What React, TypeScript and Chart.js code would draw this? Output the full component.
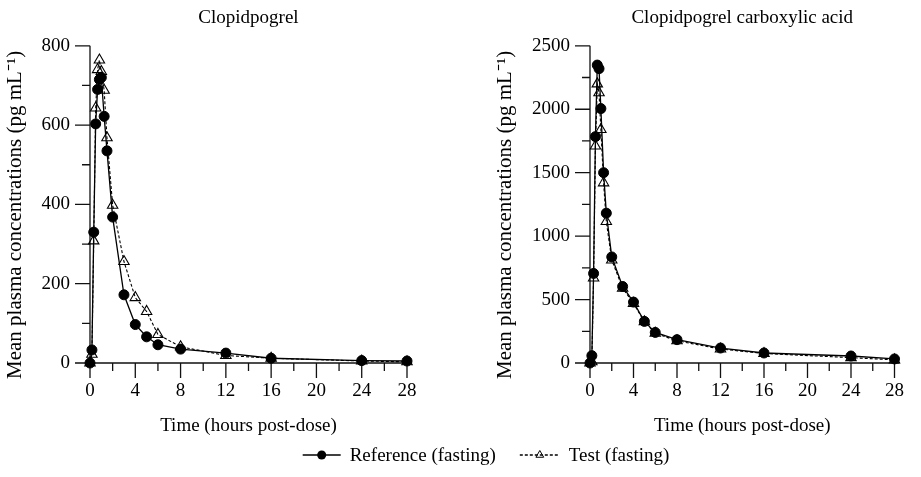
import React, { useEffect, useRef } from "react";
import { Chart, registerables } from "chart.js";

Chart.register(...registerables);

// ---- data ----
const timesH = [0, 0.17, 0.33, 0.5, 0.67, 0.83, 1, 1.25, 1.5, 2, 3, 4, 5, 6, 8, 12, 16, 24, 28];

const clopReference = [0, 33, 330, 603, 690, 715, 720, 622, 535, 368, 172, 97, 66, 46, 35, 25, 12, 6, 5];
const clopTest = [0, 22, 308, 643, 740, 764, 735, 688, 568, 398, 256, 165, 130, 72, 41, 19, 12, 5, 3];

const acidReference = [0, 58, 706, 1784, 2348, 2320, 2005, 1500, 1181, 836, 603, 480, 328, 241, 184, 118, 79, 55, 32];
const acidTest = [0, 10, 670, 1710, 2200, 2130, 1840, 1420, 1115, 812, 590, 470, 325, 235, 175, 110, 75, 42, 25];

const panelTitles = ["Clopidpogrel", "Clopidpogrel carboxylic acid"];
const seriesNames = ["Reference (fasting)", "Test (fasting)"];
const xTitle = "Time (hours post-dose)";
const yTitle = "Mean plasma concentrations (pg mL\u207B\u00B9)";

const xMax = 28;
const xMajorStep = 4;
const xMinorStep = 2;
const clopYMax = 800;
const clopYStep = 200;
const acidYMax = 2500;
const acidYStep = 500;

const FONT = "'Liberation Serif', 'Times New Roman', serif";
const FS = 19;

const axesPlugin = {
  id: "axesMarks",
  beforeDatasetsDraw(chart: any, _args: any, o: any) {
    const { ctx } = chart;
    const xs = chart.scales.x;
    const ys = chart.scales.y;
    const x0 = xs.getPixelForValue(xs.min);
    const xEnd = xs.getPixelForValue(xs.max);
    const y0 = ys.getPixelForValue(ys.min);
    const yTop = ys.getPixelForValue(ys.max);
    ctx.save();
    ctx.strokeStyle = "#111";
    ctx.lineWidth = 1.3;
    ctx.beginPath();
    ctx.moveTo(x0, yTop);
    ctx.lineTo(x0, y0);
    ctx.moveTo(x0, y0);
    ctx.lineTo(xEnd + 5, y0);
    for (let v = ys.min; v <= ys.max + 1e-9; v += o.yMinor) {
      const p = ys.getPixelForValue(v);
      const r = v / o.yMajor;
      const len = Math.abs(r - Math.round(r)) < 1e-6 ? 15 : 8;
      ctx.moveTo(x0 - len, p);
      ctx.lineTo(x0, p);
    }
    for (let v = xs.min; v <= xs.max + 1e-9; v += o.xMinor) {
      const p = xs.getPixelForValue(v);
      const r = v / o.xMajor;
      const len = Math.abs(r - Math.round(r)) < 1e-6 ? 15 : 8;
      ctx.moveTo(p, y0);
      ctx.lineTo(p, y0 + len);
    }
    ctx.stroke();
    ctx.restore();
  },
};

function drawMarker(ctx: CanvasRenderingContext2D, style: string, x: number, y: number, r: number) {
  ctx.beginPath();
  if (style === "circle") {
    ctx.arc(x, y, r, 0, Math.PI * 2);
    ctx.fillStyle = "#000";
    ctx.fill();
  } else {
    let rad = 0;
    ctx.moveTo(x + Math.sin(rad) * r, y - Math.cos(rad) * r);
    rad += (2 * Math.PI) / 3;
    ctx.lineTo(x + Math.sin(rad) * r, y - Math.cos(rad) * r);
    rad += (2 * Math.PI) / 3;
    ctx.lineTo(x + Math.sin(rad) * r, y - Math.cos(rad) * r);
    ctx.closePath();
    ctx.strokeStyle = "#000";
    ctx.lineWidth = 1;
    ctx.stroke();
  }
}

const pairLegendPlugin = {
  id: "pairLegend",
  afterDraw(chart: any, _args: any, o: any) {
    if (!o || !o.show) return;
    const { ctx } = chart;
    const ds = chart.data.datasets;
    ctx.save();
    ctx.font = `${FS}px ${FONT}`;
    ctx.textBaseline = "middle";
    ctx.textAlign = "left";
    const iconW = [38, 40];
    const gapIcon = 9;
    const gapItem = 24;
    const widths = ds.map((d: any) => ctx.measureText(d.label).width);
    const total = iconW[0] + gapIcon + widths[0] + gapItem + iconW[1] + gapIcon + widths[1];
    let x = o.centerX - total / 2;
    const y = o.y;
    ds.forEach((d: any, i: number) => {
      ctx.beginPath();
      ctx.strokeStyle = "#000";
      ctx.lineWidth = 1.3;
      ctx.setLineDash(d.borderDash || []);
      ctx.moveTo(x, y);
      ctx.lineTo(x + iconW[i], y);
      ctx.stroke();
      ctx.setLineDash([]);
      drawMarker(ctx, d.pointStyle, x + iconW[i] / 2, y, 4.5);
      x += iconW[i] + gapIcon;
      ctx.fillStyle = "#000";
      ctx.fillText(d.label, x, y + 1);
      x += widths[i] + gapItem;
    });
    ctx.restore();
  },
};

function makeConfig(
  title: string,
  refVals: number[],
  testVals: number[],
  yMax: number,
  yStep: number,
  padL: number,
  padR: number,
  yWidth: number,
  showLegend: boolean
): any {
  return {
    type: "line",
    data: {
      datasets: [
        {
          label: seriesNames[0],
          data: timesH.map((t, i) => ({ x: t, y: refVals[i] })),
          borderColor: "#000",
          borderWidth: 1.3,
          pointStyle: "circle",
          pointRadius: 5,
          pointBackgroundColor: "#000",
          pointBorderColor: "#000",
          pointBorderWidth: 1,
          tension: 0,
          clip: false,
          order: 0,
        },
        {
          label: seriesNames[1],
          data: timesH.map((t, i) => ({ x: t, y: testVals[i] })),
          borderColor: "#000",
          borderWidth: 1.1,
          borderDash: [3, 2],
          pointStyle: "triangle",
          pointRadius: 6,
          pointBackgroundColor: "rgba(255,255,255,0)",
          pointBorderColor: "#000",
          pointBorderWidth: 1.1,
          tension: 0,
          clip: false,
          order: 1,
        },
      ],
    },
    options: {
      responsive: false,
      animation: false,
      events: [],
      layout: { padding: { left: padL, right: padR, top: 0, bottom: 0 } },
      plugins: {
        legend: { display: false },
        tooltip: { enabled: false },
        title: {
          display: true,
          text: title,
          fullSize: false,
          color: "#000",
          font: { family: FONT, size: FS, weight: "normal" },
          padding: { top: 7, bottom: 16 },
        },
        axesMarks: { yMinor: yStep / 2, yMajor: yStep, xMinor: xMinorStep, xMajor: xMajorStep },
        pairLegend: { show: showLegend, centerX: 486, y: 455 },
      },
      scales: {
        x: {
          type: "linear",
          min: 0,
          max: xMax,
          grid: { display: false, drawTicks: false },
          border: { display: false },
          ticks: {
            stepSize: xMajorStep,
            padding: 17,
            color: "#000",
            font: { family: FONT, size: FS },
            callback: (v: any) => String(v),
          },
          title: {
            display: true,
            text: xTitle,
            color: "#000",
            font: { family: FONT, size: FS },
            padding: { top: 0, bottom: 40 },
          },
          afterFit: (s: any) => {
            s.height = 114;
          },
        },
        y: {
          type: "linear",
          min: 0,
          max: yMax,
          grid: { display: false, drawTicks: false },
          border: { display: false },
          ticks: {
            stepSize: yStep,
            padding: 20,
            color: "#000",
            font: { family: FONT, size: FS },
            callback: (v: any) => String(v),
          },
          title: {
            display: true,
            text: yTitle + "\u00a0\u00a0\u00a0\u00a0",
            color: "#000",
            font: { family: FONT, size: 21 },
            padding: { top: 3, bottom: 0 },
          },
          afterFit: (s: any) => {
            s.width = yWidth;
          },
        },
      },
    },
    plugins: [axesPlugin, pairLegendPlugin],
  };
}

export default function App() {
  const refA = useRef<HTMLCanvasElement>(null);
  const refB = useRef<HTMLCanvasElement>(null);

  useEffect(() => {
    const a = new Chart(
      refA.current as HTMLCanvasElement,
      makeConfig(panelTitles[0], clopReference, clopTest, clopYMax, clopYStep, 0, 514, 90, true)
    );
    const b = new Chart(
      refB.current as HTMLCanvasElement,
      makeConfig(panelTitles[1], acidReference, acidTest, acidYMax, acidYStep, 490, 14, 100, false)
    );
    return () => {
      a.destroy();
      b.destroy();
    };
  }, []);

  const cs: React.CSSProperties = { position: "absolute", left: 0, top: 0, width: 921, height: 477 };
  return (
    <div style={{ position: "absolute", left: 0, top: 0, width: 921, height: 477, background: "#fff" }}>
      <canvas ref={refA} width={921} height={477} style={cs} />
      <canvas ref={refB} width={921} height={477} style={cs} />
    </div>
  );
}
